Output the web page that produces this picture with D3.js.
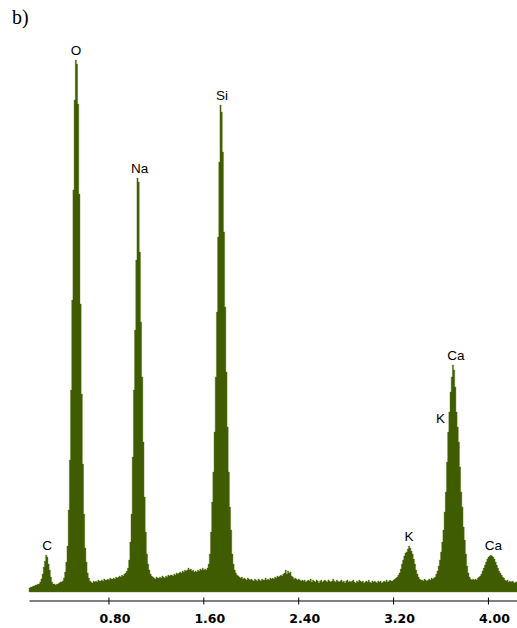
<!DOCTYPE html>
<html>
<head>
<meta charset="utf-8">
<script src="https://cdn.jsdelivr.net/npm/d3@7"></script>
<style>
body { margin: 0; background: #fff; }
</style>
</head>
<body>
<div id="chart-area"></div>
<script>
// EDS spectrum, 10 eV channels starting at 0.13 keV
const channelStart = 0.13
const channelWidth = 0.01

const counts = [
	4, 5, 5, 6, 6, 7, 7, 8, 8, 10,            // 0.13
	13, 18, 25, 31, 37, 35, 28, 22, 15, 10,    // 0.23  C
	8, 8, 7, 8, 8, 9, 10, 10, 11, 14,          // 0.33
	20, 30, 46, 82, 132, 202, 292, 402, 492, 532, // 0.43  O
	528, 488, 398, 288, 198, 128, 78, 44, 30, 19, // 0.53
	14, 11, 10, 9, 11, 10, 11, 10, 12, 11,     // 0.63
	11, 12, 11, 13, 12, 12, 13, 12, 14, 13,    // 0.73
	13, 14, 13, 15, 14, 15, 16, 15, 17, 16,    // 0.83
	18, 19, 21, 24, 32, 50, 78, 135, 202, 262, // 0.93  Na
	332, 414, 410, 340, 270, 215, 150, 95, 60, 38, // 1.03
	28, 22, 18, 16, 15, 14, 13, 15, 14, 14,    // 1.13
	15, 14, 16, 15, 14, 16, 15, 17, 16, 17,    // 1.23
	17, 16, 18, 17, 19, 18, 19, 20, 19, 21,    // 1.33
	20, 22, 21, 22, 24, 22, 23, 21, 22, 20,    // 1.43  Al
	21, 20, 22, 21, 23, 22, 24, 22, 23, 22,    // 1.53
	24, 28, 38, 60, 90, 120, 160, 215, 280, 355, // 1.63  Si
	430, 487, 480, 440, 360, 285, 220, 165, 120, 85, // 1.73
	62, 38, 28, 22, 19, 17, 16, 15, 14, 15,    // 1.83
	13, 14, 13, 12, 14, 13, 12, 13, 12, 11,    // 1.93
	13, 12, 11, 13, 12, 11, 13, 12, 12, 14,    // 2.03
	12, 13, 12, 14, 13, 14, 13, 15, 14, 16,    // 2.13
	15, 16, 17, 16, 18, 19, 22, 18, 21, 19,    // 2.23
	20, 16, 15, 13, 14, 13, 12, 13, 12, 11,    // 2.33
	12, 11, 12, 10, 11, 12, 11, 13, 10, 12,    // 2.43
	11, 10, 12, 11, 9, 11, 12, 10, 11, 12,     // 2.53
	11, 10, 12, 11, 10, 11, 13, 11, 10, 12,    // 2.63
	11, 10, 11, 12, 10, 11, 9, 11, 12, 10,     // 2.73
	11, 10, 11, 12, 10, 9, 11, 10, 12, 11,     // 2.83
	10, 11, 9, 10, 11, 10, 12, 10, 9, 11,      // 2.93
	10, 11, 10, 9, 11, 10, 11, 9, 10, 11,      // 3.03
	10, 12, 10, 11, 12, 11, 11, 12, 13, 14,    // 3.13
	15, 17, 19, 23, 28, 32, 36, 39, 40, 43,    // 3.23  K
	46, 44, 41, 38, 33, 28, 22, 18, 15, 13,    // 3.33
	12, 12, 11, 13, 12, 11, 12, 13, 12, 14,    // 3.43
	13, 14, 15, 18, 21, 26, 32, 40, 50, 62,    // 3.53
	80, 100, 130, 160, 180, 200, 215, 227, 222, 205, // 3.63  Ca
	180, 165, 150, 125, 100, 85, 65, 52, 38, 26, // 3.73
	19, 15, 13, 12, 13, 12, 13, 12, 14, 15,    // 3.83
	16, 18, 21, 24, 27, 30, 33, 35, 36, 37,    // 3.93  Ca Kb
	36, 35, 33, 30, 27, 24, 21, 19, 17, 15,    // 4.03
	14, 12, 11, 12, 10, 11, 10, 11, 10, 9,     // 4.13
	10, 10                                     // 4.23
]

const tickValues = [0.8, 1.6, 2.4, 3.2, 4.0]

// peak labels: name, energy (keV) and count level of the label baseline
const peakNames = ['C', 'O', 'Na', 'Si', 'K', 'K', 'Ca', 'Ca']
const peakEnergies = [0.282, 0.526, 1.063, 1.757, 3.334, 3.600, 3.730, 4.046]
const peakLabelCounts = [42, 537, 419, 492, 51, 169, 232, 42]

const width = 517
const height = 628

const svg = d3.select("#chart-area").append("svg")
	.attr('width', width)
	.attr('height', height)

const x = d3.scaleLinear()
	.domain([0.13, 4.245])
	.range([29, 517])

const y = d3.scaleLinear()
	.domain([0, 550])
	.range([592, 42])

const spectrum = counts.map((c, i) => ({ e: channelStart + i * channelWidth, c: c }))
spectrum.push({ e: channelStart + counts.length * channelWidth, c: counts[counts.length - 1] })

const area = d3.area()
	.curve(d3.curveStepAfter)
	.x(d => x(d.e))
	.y0(y(0))
	.y1(d => y(d.c))

svg.append('path')
	.datum(spectrum)
	.attr('d', area)
	.attr('fill', '#3f5c00')
	.attr('stroke', '#5d7a1c')
	.attr('stroke-width', 0.4)

const axisBottom = d3.axisBottom(x)
	.tickValues(tickValues)
	.tickFormat(d3.format('.2f'))
	.tickSize(4)
	.tickSizeOuter(0)

const xAxis = svg.append('g')
	.attr('transform', 'translate(0, 600.5)')
	.call(axisBottom)

xAxis.select('.domain').attr('stroke', '#000')
xAxis.selectAll('.tick line').attr('y1', -3).attr('stroke', '#000')
xAxis.selectAll('.tick text')
	.attr('y', 14)
	.attr('dx', 6)
	.attr('fill', '#000')
	.attr('font-family', 'DejaVu Sans')
	.attr('font-weight', 'bold')
	.attr('font-size', '12.5px')

svg.selectAll('.peak-label')
	.data(peakNames)
	.enter()
	.append('text')
	.attr('class', 'peak-label')
	.attr('x', (d, i) => x(peakEnergies[i]))
	.attr('y', (d, i) => y(peakLabelCounts[i]))
	.attr('text-anchor', 'middle')
	.attr('font-family', 'Liberation Sans')
	.attr('font-size', '13.5px')
	.attr('fill', '#000')
	.text(d => d)

svg.append('text')
	.attr('x', 12)
	.attr('y', 24)
	.attr('font-family', 'Liberation Serif')
	.attr('font-size', '20px')
	.attr('fill', '#000')
	.text('b)')
</script>
</body>
</html>
